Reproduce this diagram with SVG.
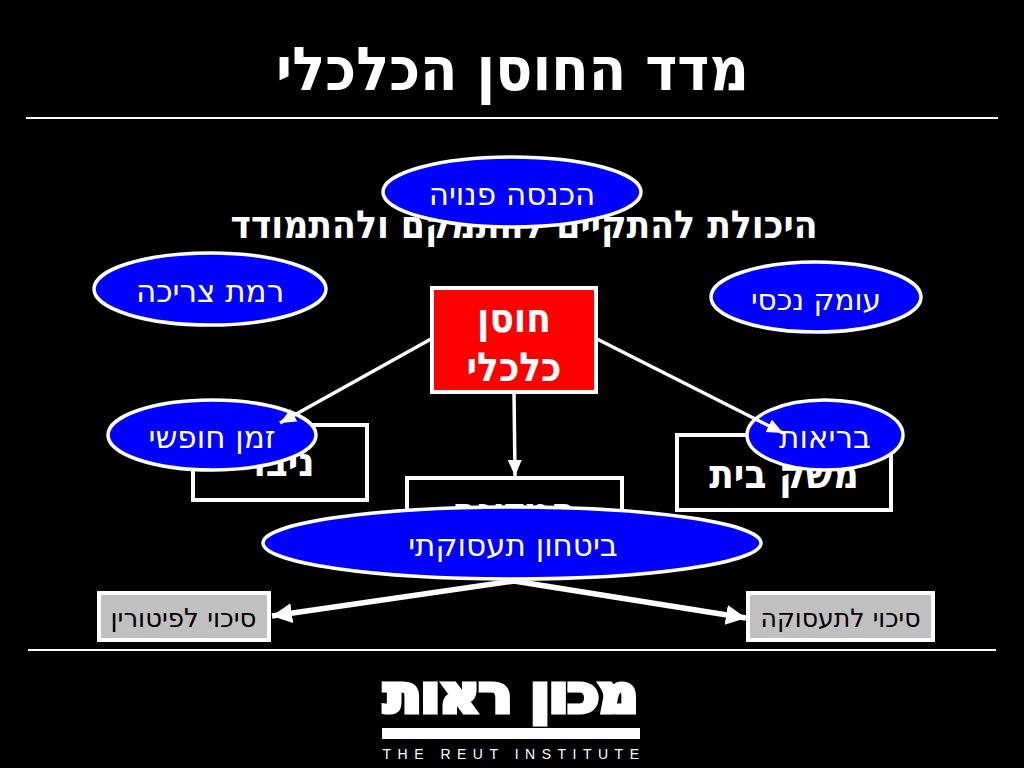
<svg xmlns="http://www.w3.org/2000/svg" width="1024" height="768" viewBox="0 0 1024 768">
<style>
text{font-family:"DejaVu Sans","Noto Sans",sans-serif;text-anchor:middle;direction:rtl}
.b{font-family:"DejaVu Sans Condensed","DejaVu Sans",sans-serif;font-weight:bold;fill:#fff}
.o{fill:#00f;stroke:#fff;stroke-width:3.5}
.e{font-size:31px;fill:#fff}
.k{fill:#000;stroke:#fff;stroke-width:4}
.g{fill:#c0c0c0;stroke:#fff;stroke-width:4}
.c{fill:none;stroke:#fff;stroke-width:3.5}
.t{fill:none;stroke:#fff;stroke-width:5.5}
.r{stroke:#fff;stroke-width:2}
.q{font-size:26px;fill:#000}
</style>
<defs>
<marker id="a" markerUnits="userSpaceOnUse" markerWidth="18" markerHeight="16" refX="16" refY="7" orient="auto"><path d="M0 0L16 7L0 14z" fill="#fff"/></marker>
<marker id="l" markerUnits="userSpaceOnUse" markerWidth="22" markerHeight="22" refX="20" refY="10" orient="auto"><path d="M0 0L20 10L0 20z" fill="#fff"/></marker>
</defs>
<rect width="1024" height="768" fill="#000"/>
<g id="title"><text class="b" x="512.500" y="90" font-size="60.700">מדד החוסן הכלכלי</text>
<line class="r" x1="26" y1="118" x2="998" y2="118"/></g>
<g id="subtitle"><text class="b" x="524" y="238" font-size="38.600">היכולת להתקיים להתמקם ולהתמודד</text></g>
<g id="node-niva"><rect class="k" x="193" y="425" width="174" height="75"/><text class="b" x="284" y="476" font-size="40">ניבו</text></g>
<g id="node-mid"><rect class="k" x="407" y="478" width="215" height="75"/><text class="b" x="514" y="526" font-size="40">המדינה</text></g>
<g id="node-home"><rect class="k" x="677" y="435" width="214" height="75"/><text class="b" x="784" y="488" font-size="40">משק בית</text></g>
<g id="node-main"><rect x="432" y="288" width="164" height="104" fill="#f00" stroke="#fff" stroke-width="4"/>
<text class="b" x="514" y="332" font-size="40">חוסן</text><text class="b" x="514" y="381" font-size="40">כלכלי</text></g>
<g id="node-income"><ellipse class="o" cx="512" cy="192" rx="129" ry="35"/><text class="e" x="512" y="205">הכנסה פנויה</text></g>
<g id="node-consumption"><ellipse class="o" cx="210" cy="289" rx="116" ry="36"/><text class="e" x="210" y="302">רמת צריכה</text></g>
<g id="node-assets"><ellipse class="o" cx="816" cy="297" rx="105" ry="35"/><text class="e" x="816" y="310" style="font-size:29.500px">עומק נכסי</text></g>
<g id="node-free"><ellipse class="o" cx="212" cy="435" rx="104" ry="35"/><text class="e" x="212" y="448">זמן חופשי</text></g>
<g id="node-health"><ellipse class="o" cx="825" cy="435" rx="78" ry="35"/><text class="e" x="825" y="448">בריאות</text></g>
<g id="node-security"><ellipse class="o" cx="512" cy="543" rx="249" ry="36"/><text class="e" x="513" y="556">ביטחון תעסוקתי</text></g>
<g id="node-fire"><rect class="g" x="99" y="593" width="170" height="47"/><text class="q" x="183.500" y="627">סיכוי לפיטורין</text></g>
<g id="node-job"><rect class="g" x="748" y="593" width="185" height="47"/><text class="q" x="840.500" y="627" style="font-size:25.200px">סיכוי לתעסוקה</text></g>
<g id="connectors">
<line class="c" x1="431" y1="339" x2="280" y2="423" marker-end="url(#a)"/>
<line class="c" x1="514" y1="392" x2="515" y2="476" marker-end="url(#a)"/>
<line class="c" x1="597" y1="339" x2="783" y2="433" marker-end="url(#a)"/>
<line class="t" x1="514" y1="581" x2="272" y2="616" marker-end="url(#l)"/>
<line class="t" x1="514" y1="581" x2="746" y2="618" marker-end="url(#l)"/>
</g>
<line class="r" x1="28" y1="650" x2="996" y2="650"/>
<g id="logo">
<text class="b" x="511" y="712" font-size="52" stroke="#fff" stroke-width="5" textLength="254" lengthAdjust="spacingAndGlyphs">מכון ראות</text>
<rect x="382" y="728" width="258" height="11" fill="#fff"/>
<text x="514" y="759" font-size="14" fill="#fff" style="direction:ltr;font-family:'Liberation Sans',sans-serif;letter-spacing:6.500px">THE REUT INSTITUTE</text>
</g>
</svg>
